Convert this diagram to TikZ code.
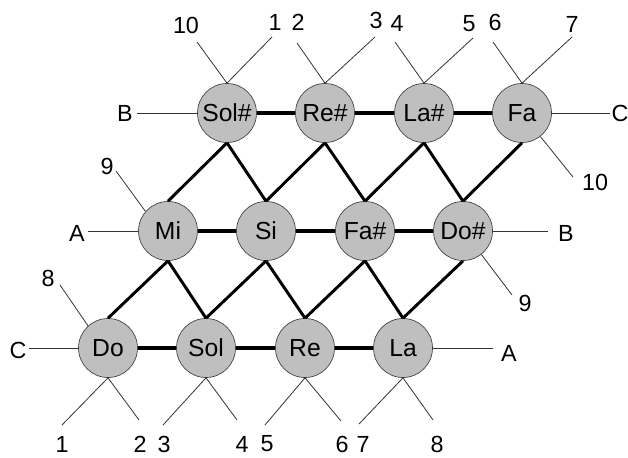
\documentclass[tikz,border=0pt]{standalone}
\usepackage{fontspec}
\setmainfont{Liberation Sans}
\begin{document}
\begin{tikzpicture}[x=0.75pt,y=-0.75pt,
  note/.style={circle,draw=black!75,line width=0.5pt,fill=black!25,minimum size=44.25pt,inner sep=0pt,font=\fontsize{18.5}{18.5}\selectfont},
  lbl/.style={inner sep=0pt,font=\fontsize{17.5}{17.5}\selectfont},
  hedge/.style={line width=3pt},
  dedge/.style={line width=2.2pt},
  thin/.style={line width=0.6pt,black!80}]
\useasboundingbox (0,0) rectangle (628,457);
% nodes
\node[note] (gs) at (227,113) {Sol\#};
\node[note] (ds) at (325,113) {Re\#};
\node[note] (as) at (424,113) {La\#};
\node[note] (f)  at (522,113) {Fa};
\node[note] (e)  at (168,231) {Mi};
\node[note] (b)  at (266,231) {Si};
\node[note] (fs) at (365,231) {Fa\#};
\node[note] (cs) at (463,231) {Do\#};
\node[note] (c)  at (108,348) {Do};
\node[note] (g)  at (206,348) {Sol};
\node[note] (d)  at (305,348) {Re};
\node[note] (a)  at (403,348) {La};
% thick edges
\draw[hedge] (gs) -- (ds); \draw[hedge] (ds) -- (as); \draw[hedge] (as) -- (f);
\draw[hedge] (e) -- (b); \draw[hedge] (b) -- (fs); \draw[hedge] (fs) -- (cs);
\draw[hedge] (c) -- (g); \draw[hedge] (g) -- (d); \draw[hedge] (d) -- (a);
\draw[dedge] (gs.south) -- (e.north); \draw[dedge] (gs.south) -- (b.north);
\draw[dedge] (ds.south) -- (b.north); \draw[dedge] (ds.south) -- (fs.north);
\draw[dedge] (as.south) -- (fs.north); \draw[dedge] (as.south) -- (cs.north);
\draw[dedge] (f.south) -- (cs.north);
\draw[dedge] (e.south) -- (c.north); \draw[dedge] (e.south) -- (g.north);
\draw[dedge] (b.south) -- (g.north); \draw[dedge] (b.south) -- (d.north);
\draw[dedge] (fs.south) -- (d.north); \draw[dedge] (fs.south) -- (a.north);
\draw[dedge] (cs.south) -- (a.north);
% free ends
\coordinate (t1) at (197,42); \coordinate (t2) at (272,37);
\coordinate (t3) at (297,43); \coordinate (t4) at (375,37);
\coordinate (t5) at (395,42); \coordinate (t6) at (473,38);
\coordinate (t7) at (493,42); \coordinate (t8) at (572,37);
\coordinate (fr) at (573,177); \coordinate (fc) at (610,113);
\coordinate (gb) at (137,113);
\coordinate (ea) at (88,231); \coordinate (e9) at (116,171);
\coordinate (csb) at (548,231); \coordinate (cs9) at (512,295);
\coordinate (cc) at (29,348); \coordinate (c8) at (60,285);
\coordinate (b1) at (62,425); \coordinate (b2) at (139,420);
\coordinate (b3) at (163,425); \coordinate (b4) at (237,420);
\coordinate (b5) at (265,425); \coordinate (b6) at (341,421);
\coordinate (b7) at (359,424); \coordinate (b8) at (433,420);
\coordinate (aa) at (493,348);
% thin lines
\draw[thin] (gs.north) -- (t1); \draw[thin] (gs.north) -- (t2);
\draw[thin] (ds.north) -- (t3); \draw[thin] (ds.north) -- (t4);
\draw[thin] (as.north) -- (t5); \draw[thin] (as.north) -- (t6);
\draw[thin] (f.north) -- (t7); \draw[thin] (f.north) -- (t8);
\draw[thin] (f.-52) -- (fr); \draw[thin] (f.east) -- (fc);
\draw[thin] (gs.west) -- (gb);
\draw[thin] (e.west) -- (ea); \draw[thin] (e.139) -- (e9);
\draw[thin] (cs.east) -- (csb); \draw[thin] (cs.-52) -- (cs9);
\draw[thin] (c.west) -- (cc); \draw[thin] (c.132) -- (c8);
\draw[thin] (c.south) -- (b1); \draw[thin] (c.south) -- (b2);
\draw[thin] (g.south) -- (b3); \draw[thin] (g.south) -- (b4);
\draw[thin] (d.south) -- (b5); \draw[thin] (d.south) -- (b6);
\draw[thin] (a.south) -- (b7); \draw[thin] (a.south) -- (b8);
\draw[thin] (a.east) -- (aa);
% labels
\node[lbl] (l10a) at (186,25) {10};
\node[lbl] (l1a) at (275,22) {1};
\node[lbl] (l2a) at (298,22) {2};
\node[lbl] (l3a) at (376,20) {3};
\node[lbl] (l4a) at (397,23) {4};
\node[lbl] (l5a) at (469,24) {5};
\node[lbl] (l6a) at (495,22) {6};
\node[lbl] (l7a) at (572,24) {7};
\node[lbl] (l10b) at (595,182) {10};
\node[lbl] (lC1) at (620,113) {C};
\node[lbl] (lB1) at (125,113) {B};
\node[lbl] (lA1) at (77,233) {A};
\node[lbl] (l9a) at (107,166) {9};
\node[lbl] (lB2) at (566,233) {B};
\node[lbl] (l9b) at (525,303) {9};
\node[lbl] (lC2) at (18,350) {C};
\node[lbl] (l8a) at (48,278) {8};
\node[lbl] (l1b) at (62,444) {1};
\node[lbl] (l2b) at (140,444) {2};
\node[lbl] (l3b) at (164,444) {3};
\node[lbl] (l4b) at (242,444) {4};
\node[lbl] (l5b) at (267,444) {5};
\node[lbl] (l6b) at (342,444) {6};
\node[lbl] (l7b) at (363,444) {7};
\node[lbl] (l8b) at (437,444) {8};
\node[lbl] (lA2) at (509,353) {A};
\end{tikzpicture}
\end{document}
